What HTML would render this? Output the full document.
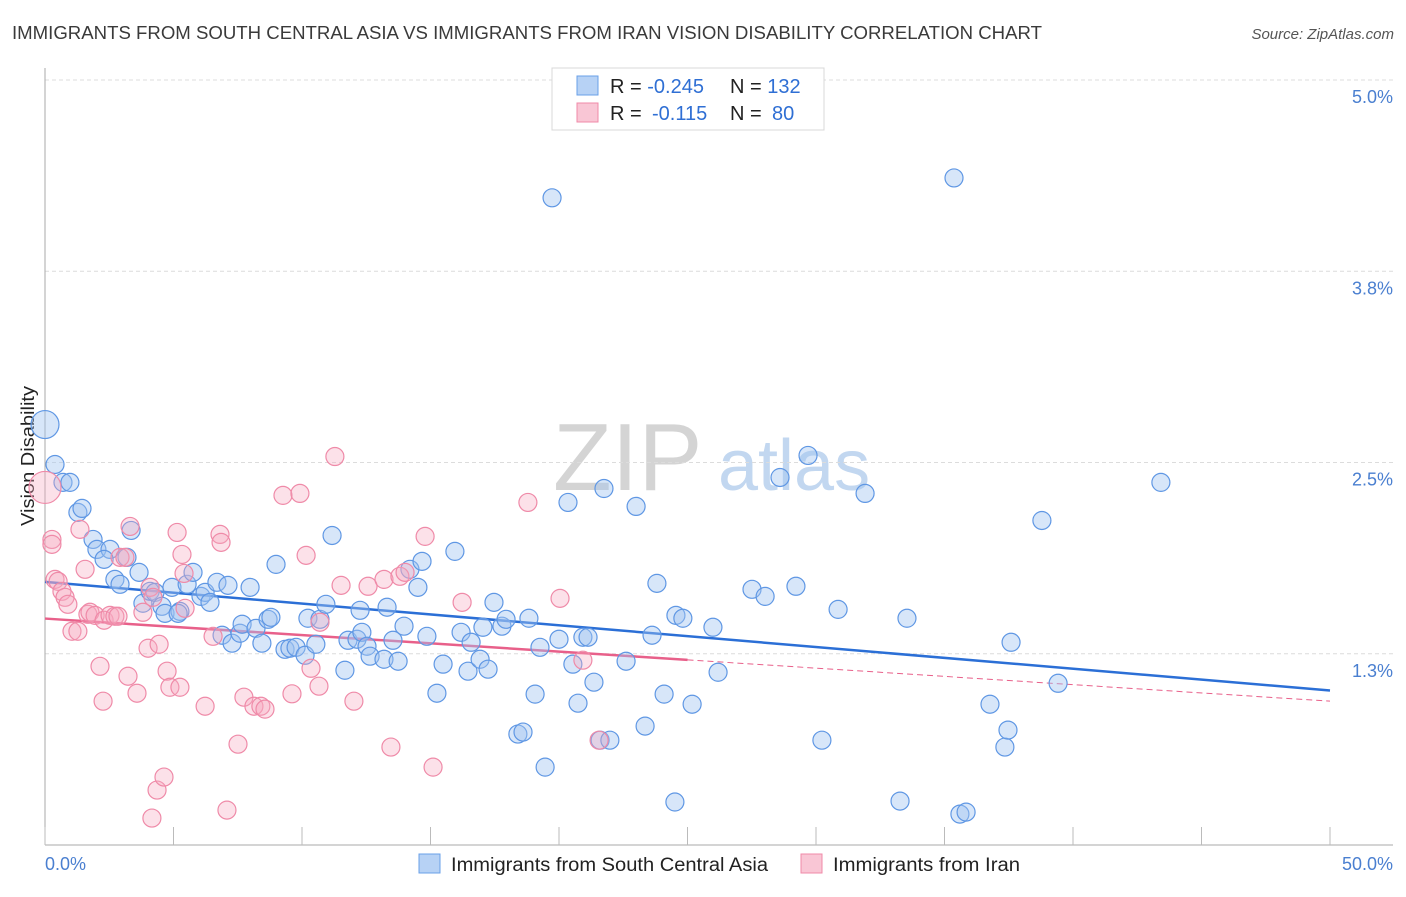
<!DOCTYPE html>
<html><head><meta charset="utf-8"><style>
body{margin:0;background:#fff;}
svg text{font-family:"Liberation Sans",sans-serif;}
</style></head><body>
<svg id="chart" width="1406" height="892" viewBox="0 0 1406 892" xmlns="http://www.w3.org/2000/svg">
<text x="12" y="39" font-size="18" fill="#3a3a3a" textLength="1030" lengthAdjust="spacingAndGlyphs">IMMIGRANTS FROM SOUTH CENTRAL ASIA VS IMMIGRANTS FROM IRAN VISION DISABILITY CORRELATION CHART</text>
<text x="1394" y="39" font-size="15" fill="#555" text-anchor="end" font-style="italic">Source: ZipAtlas.com</text>
<g>
<text x="553" y="490" font-size="96" fill="#d4d4d4" font-family="Liberation Serif,serif">ZIP</text>
<text x="718" y="490" font-size="72" fill="#c2d7f0">atlas</text>
</g>
<g id="grid"></g>
<g id="axes"></g>
<g id="lines"></g>
<g id="pts"></g>
<text transform="translate(34,456) rotate(-90)" font-size="18" fill="#222" text-anchor="middle" textLength="140" lengthAdjust="spacingAndGlyphs">Vision Disability</text>
<g>
<rect x="552" y="68" width="272" height="62" fill="#fff" stroke="#d8d8d8"/>
<rect x="577" y="76" width="21" height="19" fill="#b7d2f5" stroke="#6aa0e8"/>
<rect x="577" y="103" width="21" height="19" fill="#f9c6d5" stroke="#f08aa8"/>
<text x="610" y="93" font-size="20" fill="#222">R = <tspan fill="#2f6fd4">-0.245</tspan></text>
<text x="730" y="93" font-size="20" fill="#222">N = <tspan fill="#2f6fd4">132</tspan></text>
<text x="610" y="120" font-size="20" fill="#222">R = <tspan fill="#2f6fd4" x="652">-0.115</tspan></text>
<text x="730" y="120" font-size="20" fill="#222">N = <tspan fill="#2f6fd4" x="772">80</tspan></text>
</g>
<g>
<rect x="419" y="854" width="21" height="19" fill="#b7d2f5" stroke="#6aa0e8"/>
<text x="451" y="871" font-size="19" fill="#222" textLength="317" lengthAdjust="spacingAndGlyphs">Immigrants from South Central Asia</text>
<rect x="801" y="854" width="21" height="19" fill="#f9c6d5" stroke="#f08aa8"/>
<text x="833" y="871" font-size="19" fill="#222" textLength="187" lengthAdjust="spacingAndGlyphs">Immigrants from Iran</text>
</g>
</svg>
<script>
const yTicks=[5.0,3.75,2.5,1.25];
const yTickLabels=["5.0%","3.8%","2.5%","1.3%"];
const xTicks=[0,5,10,15,20,25,30,35,40,45,50];
const blueX=[0.00,0.39,0.70,0.97,1.28,1.44,1.87,2.02,2.53,2.30,2.72,2.92,3.35,3.19,3.66,3.81,4.09,4.28,4.55,4.67,4.94,5.25,5.18,5.53,5.76,6.07,6.23,6.42,6.69,7.12,7.98,6.89,7.28,7.59,7.67,8.21,8.44,8.68,8.79,8.99,9.34,9.53,9.77,10.12,10.23,10.54,10.70,10.93,11.17,11.67,11.79,12.14,12.33,12.26,12.53,12.65,13.19,13.31,13.54,13.74,13.97,14.20,14.51,14.67,14.86,15.25,15.49,15.95,16.19,16.46,16.58,16.93,17.24,17.04,17.47,17.78,17.94,18.40,18.60,18.83,19.07,19.26,19.46,19.73,20.00,20.35,20.54,20.74,20.93,21.13,21.36,21.60,21.98,21.75,22.61,23.00,23.35,23.62,23.81,24.09,24.55,24.51,24.82,25.18,25.99,26.19,27.51,28.02,28.60,29.22,29.69,30.23,30.86,31.91,33.27,33.54,35.37,35.60,35.84,36.77,37.35,37.47,37.59,38.79,39.42,43.42];
const blueY=[2.748,2.487,2.370,2.370,2.174,2.200,1.997,1.932,1.932,1.867,1.736,1.704,2.056,1.880,1.782,1.580,1.658,1.651,1.560,1.514,1.684,1.527,1.514,1.704,1.782,1.625,1.651,1.586,1.717,1.697,1.684,1.371,1.319,1.384,1.443,1.416,1.319,1.475,1.488,1.834,1.279,1.286,1.292,1.240,1.482,1.312,1.475,1.573,2.023,1.142,1.338,1.345,1.390,1.534,1.299,1.234,1.214,1.554,1.338,1.201,1.430,1.802,1.684,1.854,1.364,0.992,1.182,1.919,1.390,1.136,1.325,1.214,1.149,1.423,1.586,1.430,1.475,0.725,0.738,1.482,0.986,1.292,0.509,4.230,1.345,2.239,1.182,0.927,1.358,1.358,1.064,0.685,0.685,2.330,1.201,2.213,0.777,1.371,1.710,0.986,1.501,0.281,1.482,0.920,1.423,1.129,1.671,1.625,2.402,1.691,2.546,0.685,1.540,2.298,0.287,1.482,4.360,0.202,0.215,0.920,0.640,0.751,1.325,2.121,1.057,2.370];
const pinkX=[0.00,0.27,0.27,0.39,0.51,0.66,0.78,0.89,1.05,1.28,1.36,1.56,1.67,1.75,1.95,2.14,2.26,2.30,2.53,2.72,2.84,2.92,3.11,3.23,3.31,3.58,3.81,4.01,4.09,4.20,4.16,4.36,4.44,4.63,4.75,4.86,5.14,5.25,5.33,5.41,5.45,6.23,6.54,6.81,6.85,7.08,7.51,7.74,8.13,8.40,8.56,9.26,9.61,9.92,10.16,10.35,10.66,10.70,11.28,11.52,12.02,12.57,13.19,13.46,13.81,14.01,14.79,15.10,16.23,18.79,20.04,20.93,21.56];
const pinkY=[2.337,1.997,1.965,1.736,1.723,1.658,1.619,1.573,1.397,1.397,2.063,1.802,1.508,1.521,1.501,1.168,0.940,1.469,1.501,1.495,1.495,1.880,1.880,1.103,2.082,0.992,1.521,1.286,1.684,1.619,0.176,0.359,1.312,0.444,1.136,1.031,2.043,1.031,1.899,1.775,1.547,0.907,1.364,2.030,1.978,0.228,0.659,0.966,0.907,0.907,0.888,2.285,0.988,2.298,1.893,1.155,1.038,1.456,2.539,1.697,0.940,1.691,1.736,0.640,1.756,1.782,2.017,0.509,1.586,2.239,1.612,1.208,0.685];
const blueTrend=[[0,1.72],[50,1.01]];
const pinkTrend=[[0,1.48],[25,1.21]];
const pinkTrendDash=[[25,1.21],[50,0.94]];

const NS="http://www.w3.org/2000/svg";
const X0=45,X1=1330,Y0=845,Yt=80;
const xs=v=>X0+(v/50)*(X1-X0);
const ys=v=>Y0-(v/5)*(Y0-Yt);
function mk(tag,attrs,parent){const e=document.createElementNS(NS,tag);for(const k in attrs)e.setAttribute(k,attrs[k]);parent.appendChild(e);return e;}
const grid=document.getElementById('grid'),axes=document.getElementById('axes'),lines=document.getElementById('lines'),pts=document.getElementById('pts');
yTicks.forEach((t,i)=>{
 const l=mk('line',{x1:X0,x2:1393,y1:ys(t),y2:ys(t),stroke:'#dcdcdc','stroke-dasharray':'4,3'},grid);
 
 
 const tx=mk('text',{x:1393,y:ys(t)+23,'font-size':18,fill:'#4a7fd0','text-anchor':'end'},axes);
 tx.textContent=yTickLabels[i];
 
 
});
const ya=mk('line',{x1:X0,x2:X0,y1:68,y2:Y0,stroke:'#aaa'},axes);


const xa=mk('line',{x1:X0,x2:1393,y1:Y0,y2:Y0,stroke:'#aaa'},axes);


xTicks.forEach(t=>{
 const l=mk('line',{x1:xs(t),x2:xs(t),y1:Y0,y2:Y0-18,stroke:'#bbb'},axes);
 
 
});
const xl0=mk('text',{x:X0,y:870,'font-size':18,fill:'#4a7fd0'},axes);xl0.textContent='0.0%';


const xl1=mk('text',{x:1393,y:870,'font-size':18,fill:'#4a7fd0','text-anchor':'end'},axes);xl1.textContent='50.0%';



blueX.forEach((x,i)=>{
 const c=mk('circle',{cx:xs(x),cy:ys(blueY[i]),r:i===0?14:9,fill:'rgba(160,196,240,0.42)',stroke:'#5f97e4','stroke-width':1.2},pts);
 
 
});
pinkX.forEach((x,i)=>{
 const c=mk('circle',{cx:xs(x),cy:ys(pinkY[i]),r:i===0?16:9,fill:'rgba(245,170,192,0.35)',stroke:'#ef8aa8','stroke-width':1.2},pts);
 
 
});
const bl=mk('line',{x1:xs(blueTrend[0][0]),y1:ys(blueTrend[0][1]),x2:xs(blueTrend[1][0]),y2:ys(blueTrend[1][1]),stroke:'#2b6fd6','stroke-width':2.5},lines);


const pl=mk('line',{x1:xs(pinkTrend[0][0]),y1:ys(pinkTrend[0][1]),x2:xs(pinkTrend[1][0]),y2:ys(pinkTrend[1][1]),stroke:'#e8608a','stroke-width':2.5},lines);


const pd=mk('line',{x1:xs(pinkTrendDash[0][0]),y1:ys(pinkTrendDash[0][1]),x2:xs(pinkTrendDash[1][0]),y2:ys(pinkTrendDash[1][1]),stroke:'#e8608a','stroke-width':1,'stroke-dasharray':'6,4'},lines);


document.getElementById('chart').appendChild(pts);
</script>
</body></html>
